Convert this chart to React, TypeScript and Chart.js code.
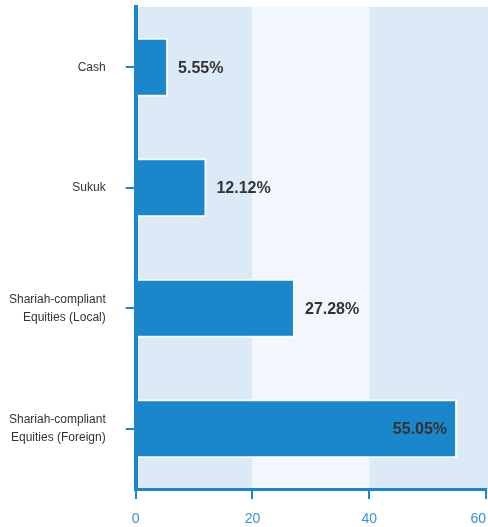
import React, { useEffect, useRef } from "react";
import { Chart, registerables } from "chart.js";

Chart.register(...registerables);

const categories: (string | string[])[] = [
  "Cash",
  "Sukuk",
  ["Shariah-compliant", "Equities (Local)"],
  ["Shariah-compliant", "Equities (Foreign)"],
];
const values = [5.55, 12.12, 27.28, 55.05];
const xTicks = [0, 20, 40, 60];
const bandColors = ["#dbeaf6", "#f1f7fc", "#dbeaf6"];

const BLUE = "#1a87cd";
const TICK_BLUE = "#3593d6";
const TEXT = "#333333";
const FONT = "'Liberation Sans', Arial, sans-serif";

const bandsPlugin = {
  id: "bands",
  beforeDraw(chart: any) {
    const { ctx, chartArea, scales } = chart;
    const x = scales.x;
    ctx.save();
    for (let i = 0; i < xTicks.length - 1; i++) {
      const x0 = x.getPixelForValue(xTicks[i]);
      let x1 = x.getPixelForValue(xTicks[i + 1]);
      if (i === xTicks.length - 2) x1 = chart.width;
      ctx.fillStyle = bandColors[i % bandColors.length];
      ctx.fillRect(x0, chartArea.top, x1 - x0, chartArea.bottom - chartArea.top);
    }
    ctx.restore();
  },
};

const labelsPlugin = {
  id: "valueLabels",
  afterDatasetsDraw(chart: any) {
    const { ctx, chartArea } = chart;
    const meta = chart.getDatasetMeta(0);
    ctx.save();
    ctx.font = `bold 16px ${FONT}`;
    ctx.fillStyle = TEXT;
    ctx.textBaseline = "middle";
    meta.data.forEach((el: any, i: number) => {
      const text = values[i].toFixed(2) + "%";
      const w = ctx.measureText(text).width;
      if (el.x + 10 + w > chartArea.right) {
        ctx.textAlign = "right";
        ctx.fillText(text, el.x - 10, el.y + 1);
      } else {
        ctx.textAlign = "left";
        ctx.fillText(text, el.x + 10, el.y + 1);
      }
    });
    ctx.restore();
  },
};

export default function App() {
  const ref = useRef<HTMLCanvasElement | null>(null);
  useEffect(() => {
    if (!ref.current) return;
    const chart = new Chart(ref.current, {
      type: "bar",
      data: {
        labels: categories,
        datasets: [
          {
            data: values,
            backgroundColor: BLUE,
            borderColor: "#ffffff",
            borderWidth: 2,
            barPercentage: 0.49,
            categoryPercentage: 1,
          },
        ],
      },
      options: {
        indexAxis: "y",
        animation: false,
        responsive: true,
        maintainAspectRatio: false,
        layout: { padding: { left: 8, top: 7, right: 2, bottom: 0 } },
        plugins: { legend: { display: false }, tooltip: { enabled: false } },
        scales: {
          x: {
            min: 0,
            max: 60,
            afterBuildTicks(scale: any) {
              scale.ticks = xTicks.map((v) => ({ value: v }));
            },
            afterFit(scale: any) {
              scale.paddingRight = 0;
              scale.height = 38;
            },
            grid: {
              display: true,
              drawOnChartArea: false,
              drawTicks: true,
              tickLength: 10,
              color: BLUE,
              lineWidth: 2,
            },
            border: { display: true, color: BLUE, width: 3, z: 1 },
            ticks: {
              color: TICK_BLUE,
              font: { family: FONT, size: 14 },
              padding: 12,
              maxRotation: 0,
              callback: (v: any) => (Number(v) === 60 ? "60    " : String(v)),
            },
          },
          y: {
            afterFit(scale: any) {
              scale.paddingTop = 0;
              scale.paddingBottom = 0;
              scale.width -= 19;
            },
            grid: {
              display: true,
              offset: false,
              drawOnChartArea: false,
              drawTicks: true,
              tickLength: 10,
              color: BLUE,
              lineWidth: 2,
            },
            border: { display: true, color: BLUE, width: 4, z: 1 },
            ticks: {
              color: TEXT,
              font: { family: FONT, size: 12, lineHeight: 1.5 },
              padding: 20,
            },
          },
        },
      },
      plugins: [bandsPlugin, labelsPlugin],
    });
    return () => chart.destroy();
  }, []);
  return (
    <div style={{ position: "absolute", left: 0, top: 0, width: 488, height: 527 }}>
      <canvas ref={ref} />
    </div>
  );
}
